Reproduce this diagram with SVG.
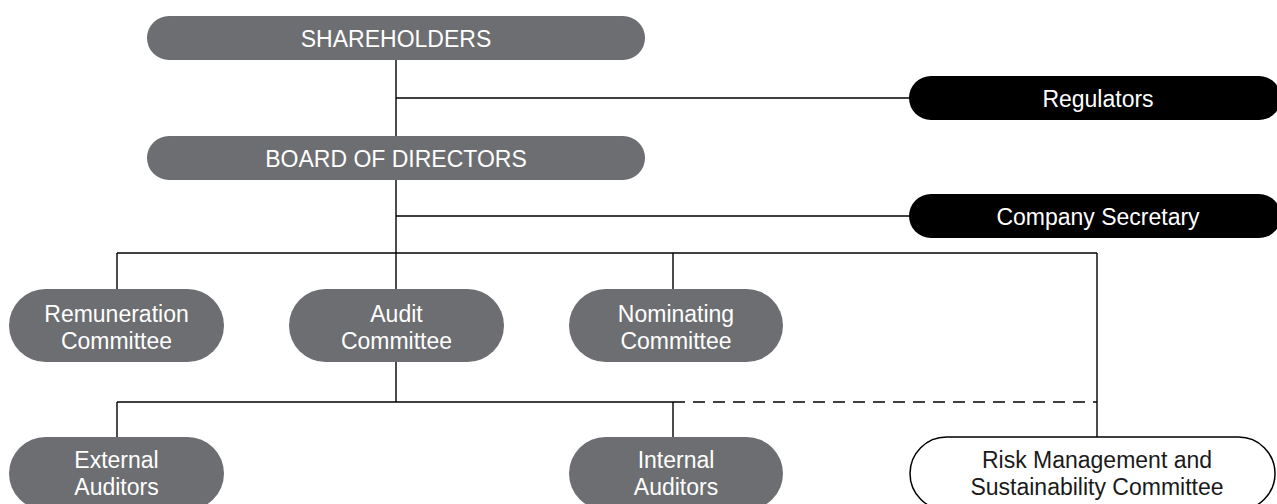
<svg xmlns="http://www.w3.org/2000/svg" width="1277" height="504" viewBox="0 0 1277 504">
<style>
.g{fill:#6d6e71}
.b{fill:#000}
.w{fill:#fff;stroke:#000;stroke-width:1.5}
text{font-family:"Liberation Sans",Arial,sans-serif;font-size:23px;text-anchor:middle}
.tw{fill:#fff}
.tk{fill:#1a1a1a}
.c line{stroke:#000;stroke-width:1.4;fill:none}
.c .d{stroke-dasharray:12 8}
</style>
<rect width="1277" height="504" fill="#fff"/>
<g class="c" id="connectors">
<line x1="396" y1="60" x2="396" y2="289"/>
<line x1="396" y1="98" x2="910" y2="98"/>
<line x1="396" y1="216" x2="910" y2="216"/>
<line x1="117" y1="253" x2="1097" y2="253"/>
<line x1="117" y1="253" x2="117" y2="289"/>
<line x1="673" y1="253" x2="673" y2="289"/>
<line x1="1097" y1="253" x2="1097" y2="437"/>
<line x1="396" y1="362" x2="396" y2="402"/>
<line x1="117" y1="402" x2="673" y2="402"/>
<line class="d" x1="673" y1="402" x2="1097" y2="402"/>
<line x1="117" y1="402" x2="117" y2="437"/>
<line x1="673" y1="402" x2="673" y2="437"/>
</g>
<g id="shareholders">
<rect class="g" x="147" y="16" width="498" height="44" rx="22"/>
<text class="tw" x="396" y="46.5">SHAREHOLDERS</text>
</g>
<g id="regulators">
<rect class="b" x="909" y="76" width="372" height="44" rx="22"/>
<text class="tw" x="1098" y="106.5">Regulators</text>
</g>
<g id="board">
<rect class="g" x="147" y="136" width="498" height="44" rx="22"/>
<text class="tw" x="396" y="166.5">BOARD OF DIRECTORS</text>
</g>
<g id="secretary">
<rect class="b" x="909" y="194" width="372" height="44" rx="22"/>
<text class="tw" x="1098" y="224.5">Company Secretary</text>
</g>
<g id="remuneration">
<rect class="g" x="9" y="289" width="215" height="73" rx="36.5"/>
<text class="tw" x="116.5" y="322">Remuneration</text>
<text class="tw" x="116.5" y="348.5">Committee</text>
</g>
<g id="audit">
<rect class="g" x="289" y="289" width="215" height="73" rx="36.5"/>
<text class="tw" x="396.5" y="322">Audit</text>
<text class="tw" x="396.5" y="348.5">Committee</text>
</g>
<g id="nominating">
<rect class="g" x="569" y="289" width="214" height="73" rx="36.5"/>
<text class="tw" x="676" y="322">Nominating</text>
<text class="tw" x="676" y="348.5">Committee</text>
</g>
<g id="external">
<rect class="g" x="9" y="437" width="215" height="73" rx="36.5"/>
<text class="tw" x="116.5" y="468">External</text>
<text class="tw" x="116.5" y="494.5">Auditors</text>
</g>
<g id="internal">
<rect class="g" x="569" y="437" width="214" height="73" rx="36.5"/>
<text class="tw" x="676" y="468">Internal</text>
<text class="tw" x="676" y="494.5">Auditors</text>
</g>
<g id="risk">
<rect class="w" x="910" y="437" width="365" height="73" rx="36.5"/>
<text class="tk" x="1097" y="468">Risk Management and</text>
<text class="tk" x="1097" y="494.5">Sustainability Committee</text>
</g>
</svg>
